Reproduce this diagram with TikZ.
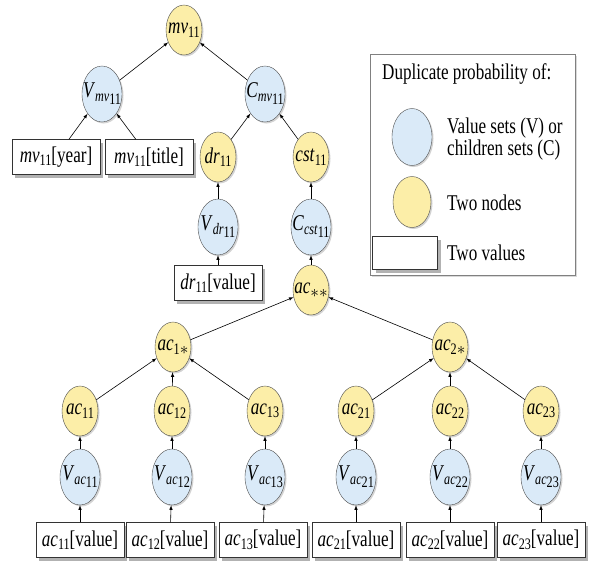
\documentclass[tikz,border=0pt]{standalone}
\usepackage{fontspec}
\setmainfont{Liberation Serif}[FakeStretch=0.76]
\usetikzlibrary{shapes, arrows, shadows}
\definecolor{setBlue}{RGB}{218,234,248}
\definecolor{nodeYellow}{RGB}{252,238,168}
\newcommand\itsub[2]{\textit{#1}\raisebox{-3.5pt}{\fontsize{16}{18}\selectfont #2}}
\newcommand\nl[1]{\makebox[0pt]{#1}}
\tikzset{
	twoNode/.style={ellipse, draw=black!70, fill=nodeYellow, minimum width=36pt, minimum height=50pt, inner sep=0pt,
		drop shadow={shadow xshift=1.5pt, shadow yshift=-1.5pt, opacity=.35}},
	valSet/.style={twoNode, fill=setBlue, minimum width=40pt, minimum height=56pt},
	twoVal/.style={rectangle, draw=black!80, fill=white, minimum width=88pt, minimum height=35pt, inner sep=0pt,
		drop shadow={shadow xshift=3pt, shadow yshift=-3pt, fill=gray!60, opacity=1}},
	dup/.style={->, >=latex, line width=.6pt},
	legendText/.style={anchor=base west, inner sep=0pt}
}

\begin{document}
\begin{tikzpicture}[x=1pt, y=-1pt, every node/.style={font=\fontsize{22.5}{26}\selectfont}]
\useasboundingbox (0,0) rectangle (589,560);
% upper part
\node[twoNode] (mv) at (184,30) {\nl{\itsub{mv}{11}}};
\node[valSet] (vmv) at (102,94) {\nl{\itsub{V}{\itsub{mv}{11}}}};
\node[valSet] (cmv) at (265,94) {\nl{\itsub{C}{\itsub{mv}{11}}}};
\node[twoVal] (yearV) at (56,157) {\itsub{mv}{11}[year]};
\node[twoVal] (titleV) at (149,157) {\itsub{mv}{11}[title]};
\node[twoNode] (dr) at (218,157) {\nl{\itsub{dr}{11}}};
\node[twoNode] (cst) at (311,157) {\nl{\itsub{cst}{11}}};
\node[valSet] (vdr) at (218,227) {\nl{\itsub{V}{\itsub{dr}{11}}}};
\node[valSet] (ccst) at (311,227) {\nl{\itsub{C}{\itsub{cst}{11}}}};
\node[twoVal] (drV) at (218,283) {\itsub{dr}{11}[value]};
\node[twoNode] (acss) at (311,290) {\nl{\itsub{ac}{$\ast\ast$}}};
% ac groups
\node[twoNode] (ac1) at (173,347) {\nl{\itsub{ac}{1$\ast$}}};
\node[twoNode] (ac2) at (450,347) {\nl{\itsub{ac}{2$\ast$}}};
\node[twoNode] (ac11) at (80,411) {\nl{\itsub{ac}{11}}};
\node[twoNode] (ac12) at (172,411) {\nl{\itsub{ac}{12}}};
\node[twoNode] (ac13) at (265,411) {\nl{\itsub{ac}{13}}};
\node[twoNode] (ac21) at (356,411) {\nl{\itsub{ac}{21}}};
\node[twoNode] (ac22) at (450,411) {\nl{\itsub{ac}{22}}};
\node[twoNode] (ac23) at (541,411) {\nl{\itsub{ac}{23}}};
\node[valSet] (vac11) at (80,477) {\nl{\itsub{V}{\itsub{ac}{11}}}};
\node[valSet] (vac12) at (172,477) {\nl{\itsub{V}{\itsub{ac}{12}}}};
\node[valSet] (vac13) at (265,477) {\nl{\itsub{V}{\itsub{ac}{13}}}};
\node[valSet] (vac21) at (356,477) {\nl{\itsub{V}{\itsub{ac}{21}}}};
\node[valSet] (vac22) at (450,477) {\nl{\itsub{V}{\itsub{ac}{22}}}};
\node[valSet] (vac23) at (541,477) {\nl{\itsub{V}{\itsub{ac}{23}}}};
\node[twoVal] (ac11V) at (80,540) {\itsub{ac}{11}[value]};
\node[twoVal] (ac12V) at (170,540) {\itsub{ac}{12}[value]};
\node[twoVal] (ac13V) at (263,540) {\itsub{ac}{13}[value]};
\node[twoVal] (ac21V) at (356,540) {\itsub{ac}{21}[value]};
\node[twoVal] (ac22V) at (450,540) {\itsub{ac}{22}[value]};
\node[twoVal] (ac23V) at (541,540) {\itsub{ac}{23}[value]};

\draw[dup] (vmv) -- (mv);
\draw[dup] (cmv) -- (mv);
\draw[dup] (yearV) -- (vmv);
\draw[dup] (titleV) -- (vmv);
\draw[dup] (dr) -- (cmv);
\draw[dup] (cst) -- (cmv);
\draw[dup] (vdr) -- (dr);
\draw[dup] (drV) -- (vdr);
\draw[dup] (ccst) -- (cst);
\draw[dup] (acss) -- (ccst);
\draw[dup] (ac1) -- (acss);
\draw[dup] (ac2) -- (acss);
\draw[dup] (ac11) -- (ac1);
\draw[dup] (ac12) -- (ac1);
\draw[dup] (ac13) -- (ac1);
\draw[dup] (ac21) -- (ac2);
\draw[dup] (ac22) -- (ac2);
\draw[dup] (ac23) -- (ac2);
\draw[dup] (vac11) -- (ac11);
\draw[dup] (vac12) -- (ac12);
\draw[dup] (vac13) -- (ac13);
\draw[dup] (vac21) -- (ac21);
\draw[dup] (vac22) -- (ac22);
\draw[dup] (vac23) -- (ac23);
\draw[dup] (ac11V) -- (vac11);
\draw[dup] (ac12V) -- (vac12);
\draw[dup] (ac13V) -- (vac13);
\draw[dup] (ac21V) -- (vac21);
\draw[dup] (ac22V) -- (vac22);
\draw[dup] (ac23V) -- (vac23);

% legend
\draw[black!50, fill=white, drop shadow={shadow xshift=2pt, shadow yshift=-2pt, opacity=.3}] (370,54) rectangle (575,275);
\node[legendText] (legTitle) at (382,79) {Duplicate probability of:};
\node[valSet, minimum height=57pt] (legSet) at (412,137) {};
\node[twoNode, minimum width=38pt, minimum height=51pt] (legNode) at (412,202) {};
\node[twoVal, minimum width=65pt, minimum height=33pt] (legVal) at (405,253) {};
\node[legendText] (legSetText) at (447,133) {Value sets (V) or};
\node[legendText] (legSetText2) at (447,155) {children sets (C)};
\node[legendText] (legNodeText) at (447,210) {Two nodes};
\node[legendText] (legValText) at (447,260) {Two values};
\end{tikzpicture}
\end{document}
